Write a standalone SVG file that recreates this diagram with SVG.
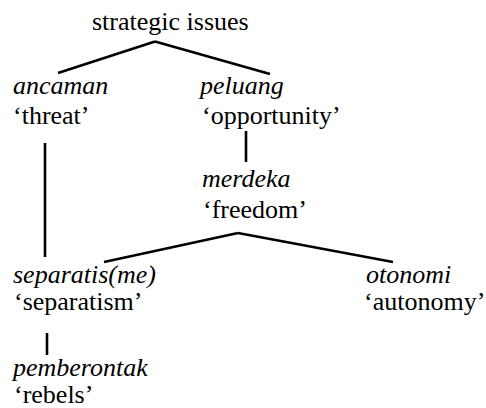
<svg xmlns="http://www.w3.org/2000/svg" width="486" height="408" viewBox="0 0 486 408">
<style>
text{font-family:"Liberation Serif","Times New Roman",serif;font-size:26px;fill:#000}
.i{font-style:italic}
.c line{stroke:#000;stroke-width:2.6;stroke-linecap:butt}
</style>
<rect width="486" height="408" fill="#fff"/>
<g class="c" id="connectors">
<line x1="155" y1="41.5" x2="58" y2="73"/>
<line x1="155" y1="41.5" x2="270" y2="74"/>
<line x1="45" y1="143" x2="45" y2="257"/>
<line x1="246" y1="131" x2="246" y2="162"/>
<line x1="238" y1="233" x2="104" y2="262"/>
<line x1="238" y1="233" x2="393" y2="262"/>
<line x1="47" y1="333" x2="47" y2="355"/>
</g>
<g id="root"><text x="92" y="30">strategic issues</text></g>
<g id="ancaman"><text class="i" x="13" y="94">ancaman</text><text x="13" y="124">‘threat’</text></g>
<g id="peluang"><text class="i" x="200" y="94">peluang</text><text x="202" y="124">‘opportunity’</text></g>
<g id="merdeka"><text class="i" x="202" y="187">merdeka</text><text x="203" y="218">‘freedom’</text></g>
<g id="separatisme"><text class="i" x="13" y="283">separatis(me)</text><text x="14" y="310">‘separatism’</text></g>
<g id="otonomi"><text class="i" x="366" y="283">otonomi</text><text x="364" y="310">‘autonomy’</text></g>
<g id="pemberontak"><text class="i" x="13" y="376">pemberontak</text><text x="14" y="403">‘rebels’</text></g>
</svg>
